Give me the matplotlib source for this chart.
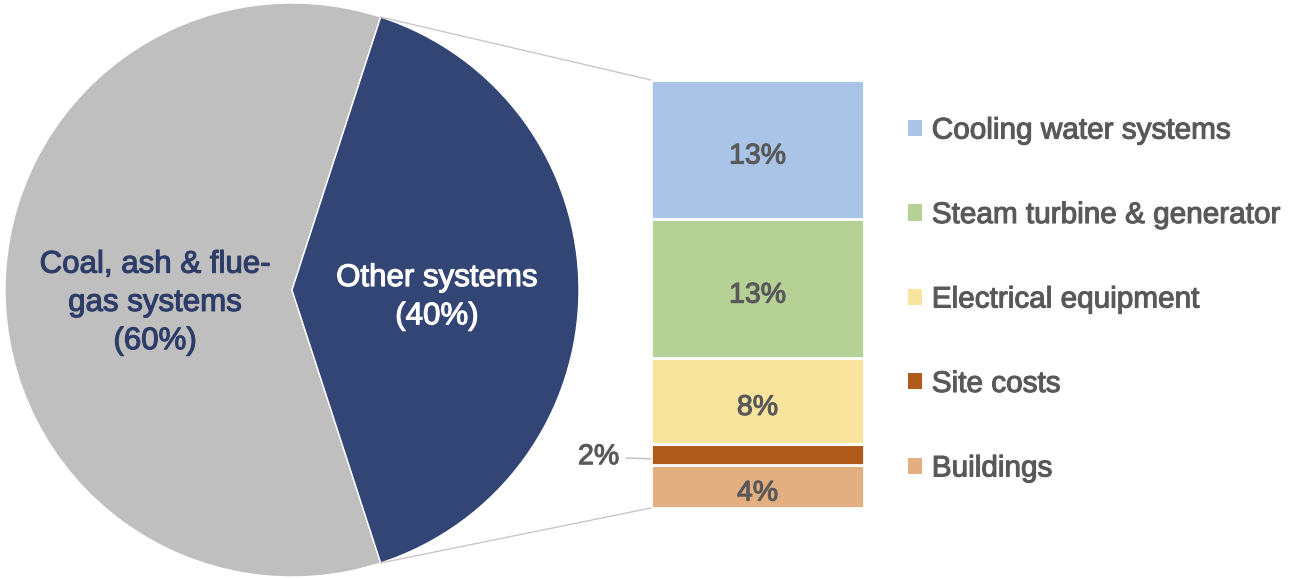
import math
import matplotlib.pyplot as plt
import matplotlib.patheffects as pe
from matplotlib.patches import ConnectionPatch, Patch

plt.rcParams['font.family'] = ['Liberation Sans', 'DejaVu Sans']

# pie data
pie_labels = ['Coal, ash & flue-\ngas systems\n(60%)', 'Other systems\n(40%)']
pie_values = [60, 40]
pie_colors = ['#BFBFBF', '#334574']

# breakdown of "Other systems", bottom to top
bar_names = ['Buildings', 'Site costs', 'Electrical equipment',
             'Steam turbine & generator', 'Cooling water systems']
bar_values = [4, 2, 8, 13, 13]
bar_colors = ['#E3AE80', '#B05A1C', '#F8E49C', '#B5D196', '#A9C4E6']

W, H = 1292, 579
fig = plt.figure(figsize=(W / 100, H / 100), dpi=100)

def px_box(x0, y0, x1, y1):
    # pixel box (top-left origin) -> figure fraction rect
    return [x0 / W, 1 - y1 / H, (x1 - x0) / W, (y1 - y0) / H]

def heavy(color):
    return [pe.withStroke(linewidth=0.8, foreground=color)]

# pie
cx, cy, r = 292, 290, 287
ax1 = fig.add_axes(px_box(cx - r, cy - r, cx + r, cy + r))
wedges, _ = ax1.pie(pie_values, colors=pie_colors, startangle=72, radius=1,
                    wedgeprops=dict(edgecolor='white', linewidth=1))
for w in wedges:
    w.set_clip_on(False)
ax1.set_xlim(-1, 1)
ax1.set_ylim(-1, 1)
ax1.set_aspect('equal')
ax1.axis('off')
ax1.text(-0.477, -0.045, pie_labels[0], ha='center', va='center',
         fontsize=22.5, color='#2E3D68', linespacing=1.36,
         path_effects=heavy('#2E3D68'))
ax1.text(0.505, -0.025, pie_labels[1], ha='center', va='center',
         fontsize=22.5, color='white', linespacing=1.36,
         path_effects=heavy('white'))

# stacked bar
ax2 = fig.add_axes(px_box(651, 80, 864, 508))
bottom = 0
for name, v, c in zip(bar_names, bar_values, bar_colors):
    ax2.bar(0.5, v, width=1, bottom=bottom, color=c, edgecolor='white',
            linewidth=2, label=name)
    if v >= 4:
        ax2.text(0.5, bottom + v / 2 - 0.65, f'{v}%',
                 ha='center', va='center', fontsize=20.5, color='#595959',
                 path_effects=heavy('#595959'))
    else:
        ax2.annotate(f'{v}%', xy=(0, bottom + v / 2 - 0.4), xytext=(-0.15, bottom + v / 2 - 0.25),
                     ha='right', va='center', fontsize=20.5, color='#595959',
                     path_effects=heavy('#595959'),
                     arrowprops=dict(arrowstyle='-', color='#BFBFBF', lw=1,
                                     shrinkA=3, shrinkB=0))
    bottom += v
ax2.set_xlim(0, 1)
ax2.set_ylim(0, sum(bar_values))
ax2.axis('off')

# lines from pie to bar
theta = math.radians(72)
for sgn, yb in [(1, sum(bar_values)), (-1, 0)]:
    con = ConnectionPatch(xyA=(math.cos(theta), sgn * math.sin(theta)), coordsA=ax1.transData,
                          xyB=(0, yb), coordsB=ax2.transData,
                          color='#C8C8C8', lw=1)
    fig.add_artist(con)

# legend, top to bottom
handles = [Patch(facecolor=c, edgecolor='none') for c in bar_colors[::-1]]
leg = fig.legend(handles, bar_names[::-1], loc='center left',
                 bbox_to_anchor=(908 / W, 1 - 299.5 / H), frameon=False,
                 fontsize=21.4, labelcolor='#595959', handlelength=0.46,
                 handleheight=0.46, handletextpad=0.34, labelspacing=1.9,
                 borderpad=0, borderaxespad=0)
for t in leg.get_texts():
    t.set_path_effects(heavy('#595959'))

fig.savefig('out.png', dpi=100)
